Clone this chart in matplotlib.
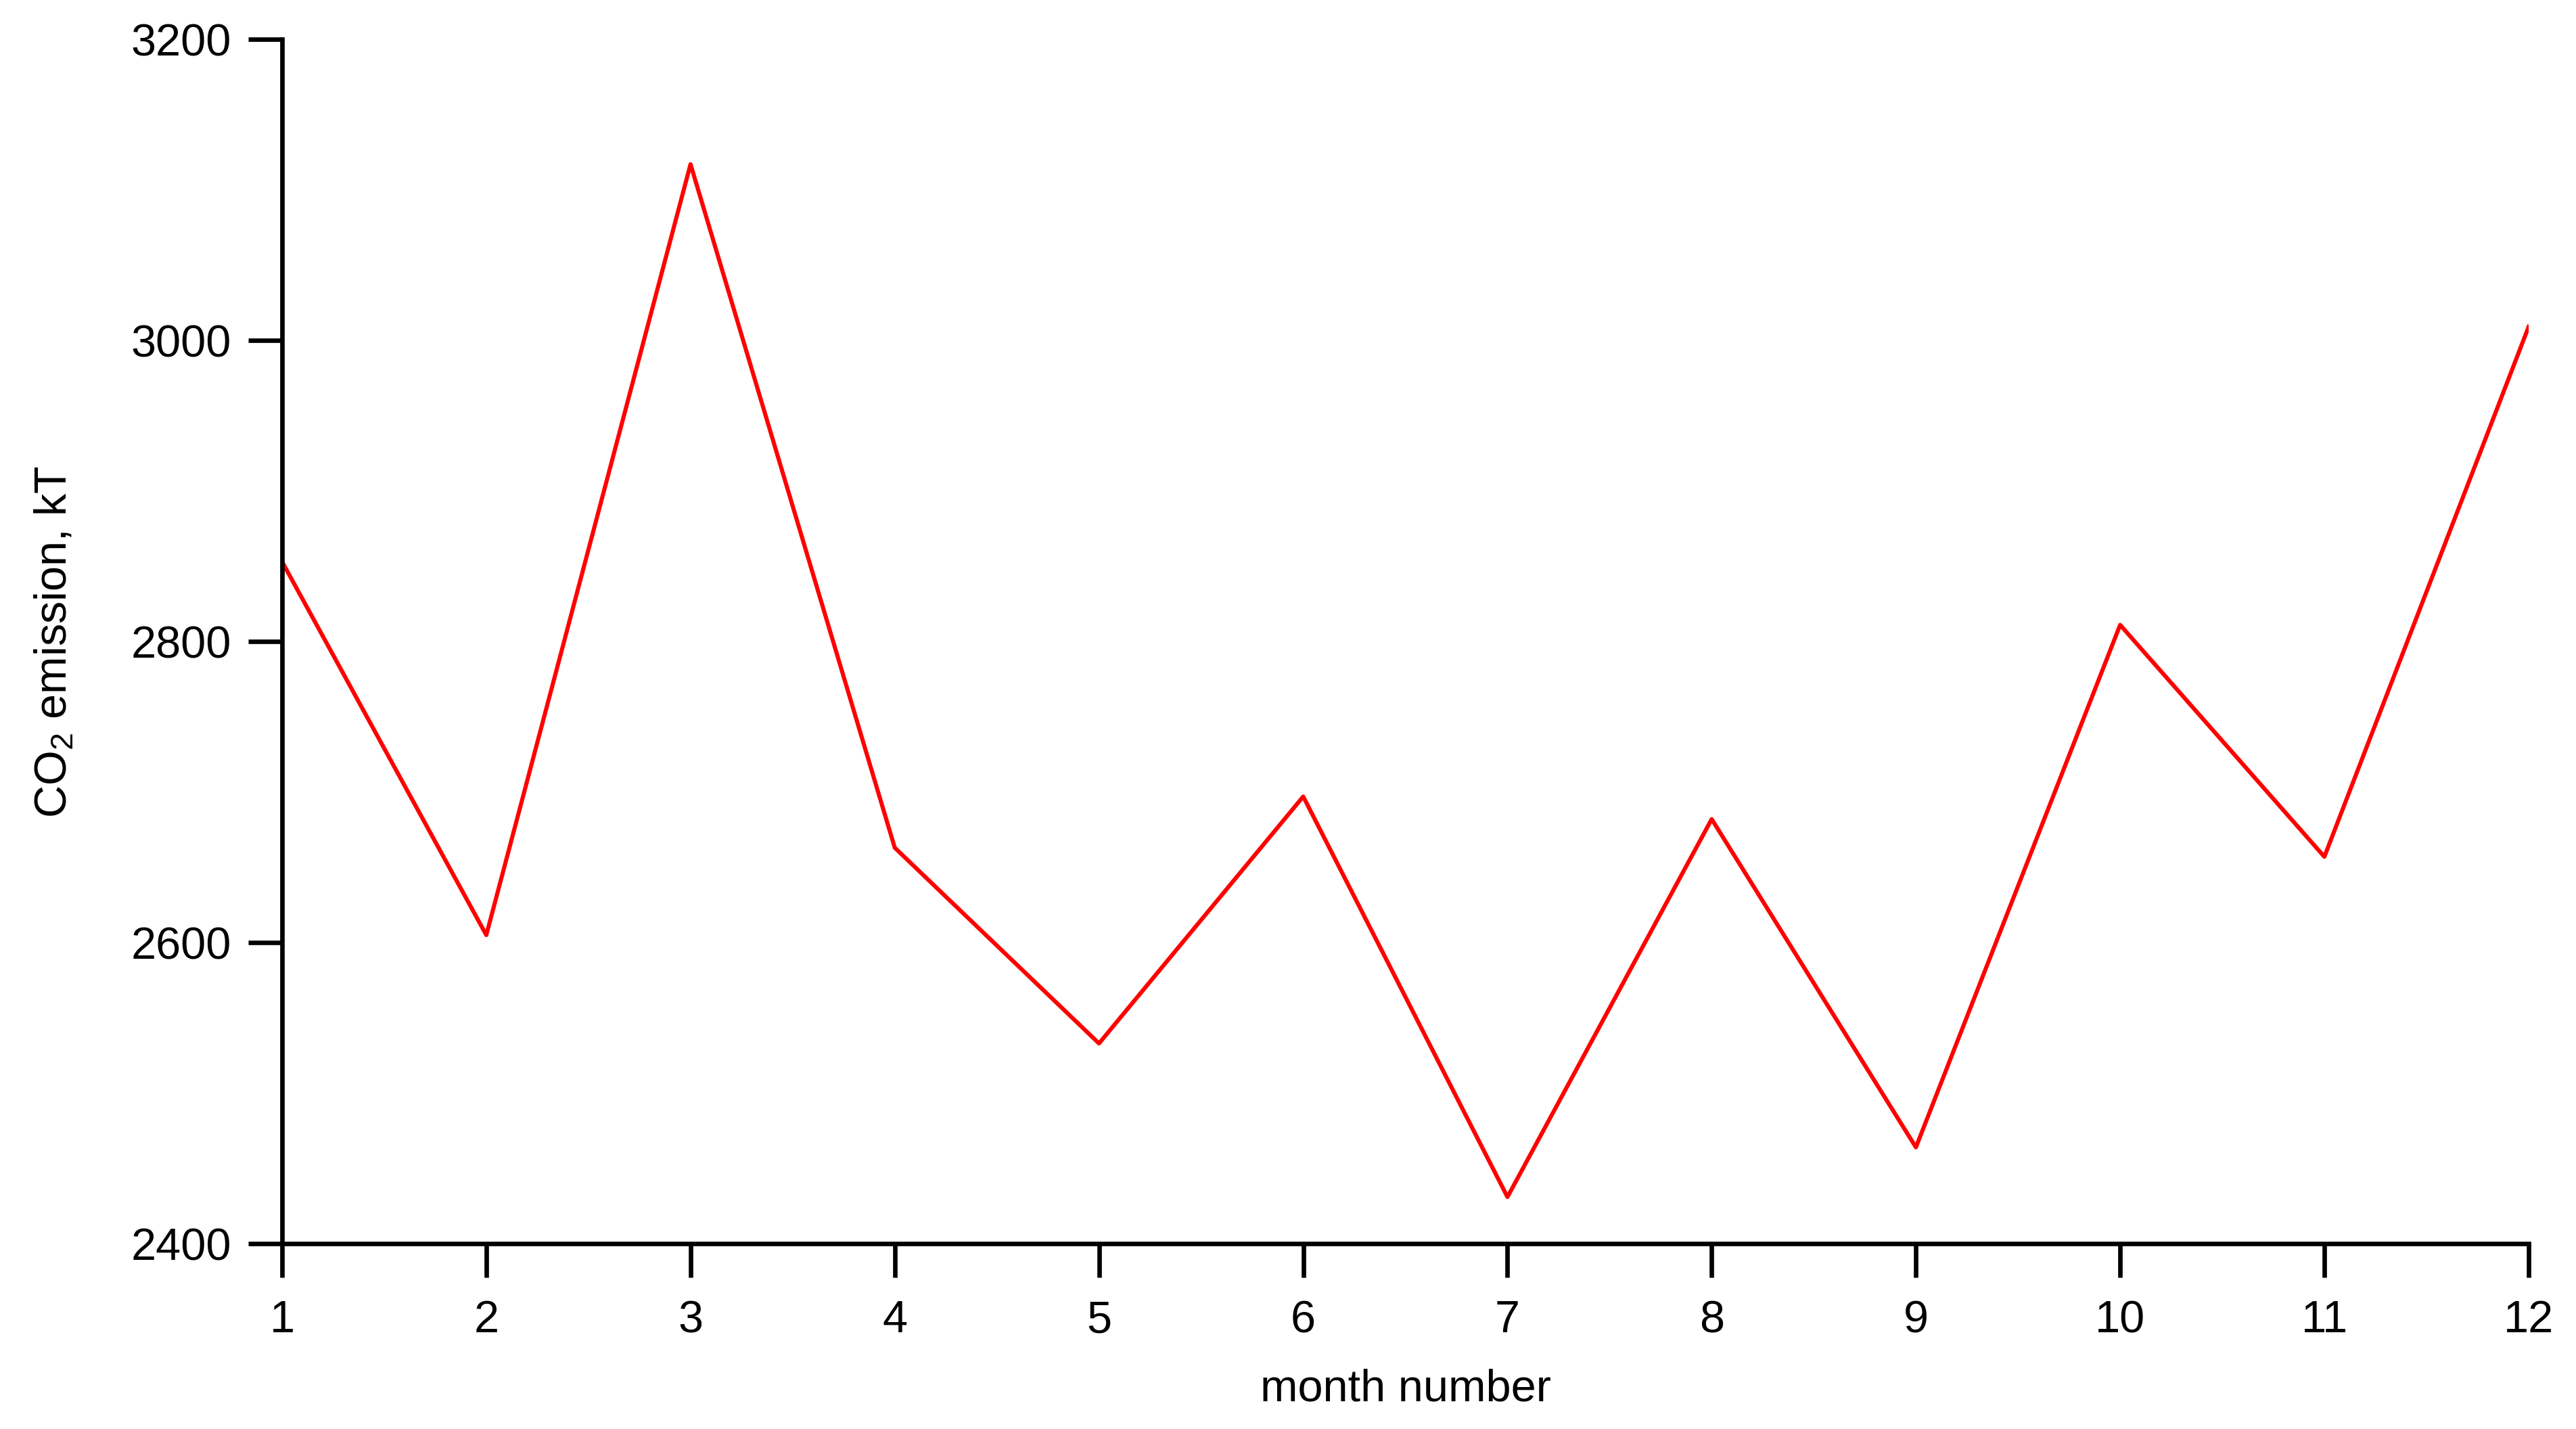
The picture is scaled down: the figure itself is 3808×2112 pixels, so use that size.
import matplotlib
matplotlib.use("Agg")
import matplotlib.pyplot as plt

# monthly CO2 emission values
months = [1, 2, 3, 4, 5, 6, 7, 8, 9, 10, 11, 12]
emission = [2853, 2605, 3117, 2663, 2533, 2697, 2431, 2682, 2464, 2811, 2657, 3009]
y_ticks = [2400, 2600, 2800, 3000, 3200]

plt.rcParams['font.family'] = ['Liberation Sans', 'DejaVu Sans']
plt.rcParams['mathtext.default'] = 'regular'

fig = plt.figure(figsize=(19.04, 10.56), dpi=200)
ax = fig.add_axes([0.1095, 0.1297, 0.9816 - 0.1095, 0.9725 - 0.1297])

ax.plot(months, emission, color='#ff0000', linewidth=2.2)

ax.set_xlim(1, 12)
ax.set_ylim(2400, 3200)
ax.set_xticks(months)
ax.set_yticks(y_ticks)

for side in ['top', 'right']:
    ax.spines[side].set_visible(False)
for side in ['left', 'bottom']:
    ax.spines[side].set_linewidth(2.4)

ax.tick_params(axis='both', direction='out', length=18, width=2.4,
               labelsize=24, colors='black')
ax.tick_params(axis='x', pad=12)
ax.tick_params(axis='y', pad=9)

ax.set_xlabel('month number', fontsize=24, labelpad=14)
ax.set_ylabel('CO$_2$ emission, kT', fontsize=24, labelpad=29)

fig.savefig('out.png', dpi=200, facecolor='white')
